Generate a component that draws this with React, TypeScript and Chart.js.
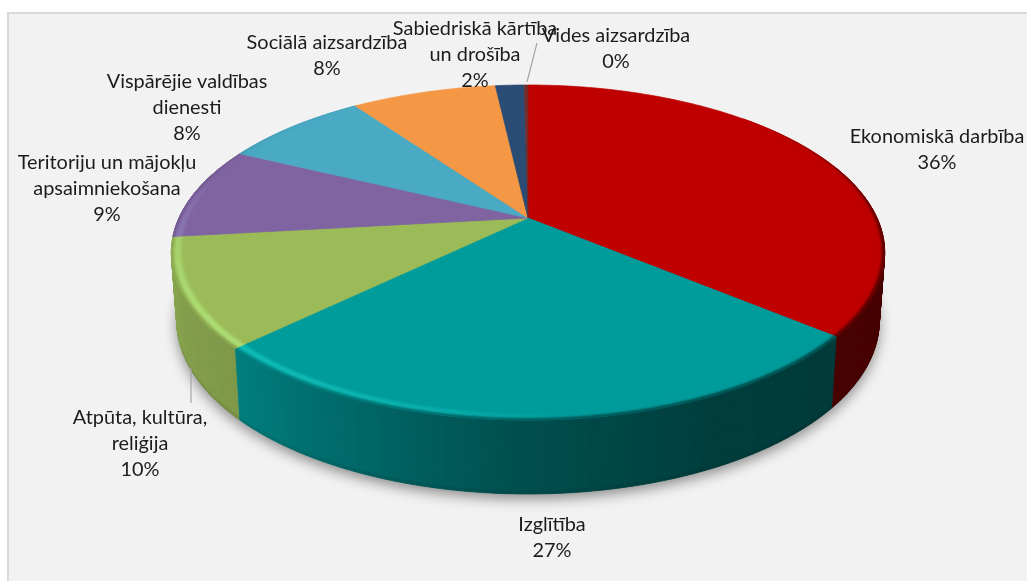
import React, { useEffect, useRef } from "react";
import { Chart, registerables } from "chart.js";

Chart.register(...registerables);

// ---- data ----
const categories = [
  "Ekonomiskā darbība",
  "Izglītība",
  "Atpūta, kultūra, reliģija",
  "Teritoriju un mājokļu apsaimniekošana",
  "Vispārējie valdības dienesti",
  "Sociālā aizsardzība",
  "Sabiedriskā kārtība un drošība",
  "Vides aizsardzība",
];
const values = [36.1, 26.65, 10.45, 9.0, 8.0, 8.0, 1.6, 0.2];
const labelLines = [
  ["Ekonomiskā darbība"],
  ["Izglītība"],
  ["Atpūta, kultūra,", "reliģija"],
  ["Teritoriju un mājokļu", "apsaimniekošana"],
  ["Vispārējie valdības", "dienesti"],
  ["Sociālā aizsardzība"],
  ["Sabiedriskā kārtība", "un drošība"],
  ["Vides aizsardzība"],
];

// ---- style ----
const colors = ["#bf0000", "#009b9b", "#9bbb59", "#8064a2", "#4aa9c3", "#f59845", "#2b4c74", "#772c2a"];
const labelPos = [
  [937, 137],
  [552, 525],
  [140, 418],
  [107, 163],
  [187, 82],
  [327, 43],
  [475, 29],
  [616, 36],
];
const leaders = [
  [537, 43, 527, 82],
  [191, 368, 191, 403],
];
const LINE_H = 26;
const FONT = '19.9px Lato, "Noto Sans", sans-serif';
const P = { cx: 528, cy: 218, a: 349, b: 160.4, k: 0.206, depth: 74, taper: 0.015 };
const sideShade = [
  [0, 0.36], [130, 0.37], [155, 0.4], [180, 0.5], [205, 0.68], [226, 0.82], [250, 0.87], [290, 0.88], [360, 0.88],
];

const rad = (d: number) => (d * Math.PI) / 180;

function project(theta: number, r: number, z: number) {
  const u = r * Math.sin(theta);
  const v = -r * Math.cos(theta);
  const d = 1 - P.k * v;
  const s = 1 - (P.taper * z) / P.depth;
  const zz = z * (1 + 0.1 * (v - 1));
  return [P.cx + (P.a * u * s) / d, P.cy + (P.b * v) / d + zz];
}

function hex(c: string) {
  return [1, 3, 5].map((i) => parseInt(c.slice(i, i + 2), 16));
}
const css = (c: number[]) => `rgb(${c.map((x) => Math.max(0, Math.min(255, Math.round(x)))).join(",")})`;
const mix = (a: number[], b: number[], t: number) => a.map((x, i) => x + (b[i] - x) * t);
const clamp = (x: number) => Math.max(0, Math.min(1, x));

function shadeAt(deg: number) {
  for (let i = 1; i < sideShade.length; i++) {
    const [a, va] = sideShade[i - 1];
    const [b, vb] = sideShade[i];
    if (deg <= b) return va + ((vb - va) * (deg - a)) / (b - a);
  }
  return 0.88;
}

function quad(ctx: CanvasRenderingContext2D, pts: number[][], color: string) {
  ctx.beginPath();
  ctx.moveTo(pts[0][0], pts[0][1]);
  for (let i = 1; i < pts.length; i++) ctx.lineTo(pts[i][0], pts[i][1]);
  ctx.closePath();
  ctx.fillStyle = color;
  ctx.strokeStyle = color;
  ctx.lineWidth = 0.7;
  ctx.fill();
  ctx.stroke();
}

function drawPie(chart: any) {
  const ctx: CanvasRenderingContext2D = chart.ctx;
  const arcs = chart.getDatasetMeta(0).data;
  const toTheta = (a: number) => a + Math.PI / 2;

  // soft shadow from the lower outline
  ctx.save();
  ctx.beginPath();
  for (let d = 0; d <= 360; d += 1) {
    const [x, y] = project(rad(d), 1, P.depth);
    if (d === 0) ctx.moveTo(x, y);
    else ctx.lineTo(x, y);
  }
  ctx.closePath();
  ctx.shadowColor = "rgba(0,0,0,0.42)";
  ctx.shadowBlur = 13;
  ctx.shadowOffsetY = 5;
  ctx.fillStyle = "#666";
  ctx.fill();
  ctx.restore();

  const STEP = 0.5;

  // side wall, painted from the back round to the front
  const walls: { m: number; d: number; d2: number; col: number[] }[] = [];
  arcs.forEach((arc: any, i: number) => {
    const base = hex(colors[i]);
    const s = (toTheta(arc.startAngle) * 180) / Math.PI;
    const e = (toTheta(arc.endAngle) * 180) / Math.PI;
    for (let d = s; d < e; d += STEP) {
      const d2 = Math.min(d + STEP, e);
      const m = (d + d2) / 2;
      if (m < 70 || m > 290) continue;
      walls.push({ m, d, d2, col: base.map((x) => x * shadeAt(m)) });
    }
  });
  walls.sort((a, b) => Math.abs(b.m - 180) - Math.abs(a.m - 180));
  walls.forEach(({ d, d2, col }) => {
    const t1 = rad(d);
    const t2 = rad(d2);
    const zb = P.depth - 3;
    quad(ctx, [project(t1, 1, 0), project(t2, 1, 0), project(t2, 1, zb), project(t1, 1, zb)], css(col));
    quad(ctx, [project(t1, 1, zb), project(t2, 1, zb), project(t2, 1, P.depth), project(t1, 1, P.depth)],
      css(col.map((x) => x * 0.93)));
  });

  // top faces
  arcs.forEach((arc: any, i: number) => {
    const s = toTheta(arc.startAngle);
    const e = toTheta(arc.endAngle);
    const pts = [[P.cx, P.cy]];
    const n = Math.max(2, Math.ceil(((e - s) * 180) / Math.PI));
    for (let j = 0; j <= n; j++) pts.push(project(s + ((e - s) * j) / n, 1, 0));
    quad(ctx, pts, colors[i]);
  });

  // bevel band on the rim
  const BANDS = 7;
  const INNER = 0.968;
  arcs.forEach((arc: any, i: number) => {
    const base = hex(colors[i]);
    const s = (toTheta(arc.startAngle) * 180) / Math.PI;
    const e = (toTheta(arc.endAngle) * 180) / Math.PI;
    for (let d = s; d < e; d += STEP) {
      const d2 = Math.min(d + STEP, e);
      const m = (d + d2) / 2;
      const fade = m < 180 ? clamp((m - 45) / 50) : clamp((325 - m) / 50);
      if (fade <= 0) continue;
      const side = base.map((x) => x * shadeAt(m));
      const hi = m > 175 && m < 285 ? Math.sin((Math.PI * (m - 175)) / 110) ** 0.8 : 0;
      const bright = [base[0] + 18, base[1] + 34, base[2] + 28];
      for (let b = 0; b < BANDS; b++) {
        const t = (b + 0.5) / BANDS;
        const r1 = INNER + ((1 - INNER) * b) / BANDS;
        const r2 = INNER + ((1 - INNER) * (b + 1)) / BANDS;
        let c = mix(base, side, clamp((t - 0.6) / 0.4) ** 1.2 * fade);
        const bump = Math.sin(Math.PI * t) ** 1.5 * hi;
        c = mix(c, bright, bump);
        const t1 = rad(d);
        const t2 = rad(d2);
        quad(ctx, [project(t1, r1, 0), project(t2, r1, 0), project(t2, r2, 0), project(t1, r2, 0)], css(c));
      }
    }
  });
}

const piePlugin = {
  id: "pie3d",
  beforeDraw(chart: any) {
    const ctx: CanvasRenderingContext2D = chart.ctx;
    ctx.save();
    ctx.fillStyle = "#ffffff";
    ctx.fillRect(0, 0, chart.width, chart.height);
    ctx.fillStyle = "#f2f2f2";
    ctx.strokeStyle = "#d9d9d9";
    ctx.lineWidth = 2;
    ctx.fillRect(8, 13, 1030, 580);
    ctx.strokeRect(8, 13, 1030, 580);
    ctx.restore();
  },
  beforeDatasetDraw(chart: any) {
    drawPie(chart);
    return false;
  },
  afterDraw(chart: any) {
    const ctx: CanvasRenderingContext2D = chart.ctx;
    ctx.save();
    ctx.strokeStyle = "#a6a6a6";
    ctx.lineWidth = 1.2;
    leaders.forEach(([x1, y1, x2, y2]) => {
      ctx.beginPath();
      ctx.moveTo(x1, y1);
      ctx.lineTo(x2, y2);
      ctx.stroke();
    });
    ctx.font = FONT;
    ctx.fillStyle = "#1c1c1c";
    ctx.textAlign = "center";
    ctx.textBaseline = "middle";
    labelLines.forEach((lines, i) => {
      const [x, y] = labelPos[i];
      const all = [...lines, `${Math.round(values[i])}%`];
      all.forEach((t, j) => ctx.fillText(t, x, y + j * LINE_H));
    });
    ctx.restore();
  },
};

export default function App() {
  const ref = useRef<HTMLCanvasElement | null>(null);
  useEffect(() => {
    const chart = new Chart(ref.current as HTMLCanvasElement, {
      type: "pie",
      data: {
        labels: categories,
        datasets: [{ data: values, backgroundColor: colors, borderWidth: 0 }],
      },
      options: {
        responsive: false,
        animation: false,
        plugins: { legend: { display: false }, tooltip: { enabled: false } },
      },
      plugins: [piePlugin],
    } as any);
    return () => chart.destroy();
  }, []);
  return (
    <div style={{ position: "fixed", left: 0, top: 0, width: 1027, height: 581, overflow: "hidden", background: "#fff" }}>
      <canvas ref={ref} width={1027} height={581} style={{ display: "block" }} />
    </div>
  );
}
